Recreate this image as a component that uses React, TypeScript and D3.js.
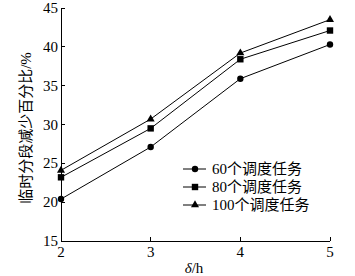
import React from "react";
import * as d3 from "d3";

const xValues = [2, 3, 4, 5];
const series60 = [20.4, 27.1, 35.9, 40.3];
const series80 = [23.2, 29.5, 38.4, 42.1];
const series100 = [24.1, 30.7, 39.2, 43.5];
const seriesNames = ["60个调度任务", "80个调度任务", "100个调度任务"];
const yTicks = [15, 20, 25, 30, 35, 40, 45];
const xTicks = [2, 3, 4, 5];

const W = 355, H = 276;
const x = d3.scaleLinear().domain([2, 5]).range([61, 330]);
const y = d3.scaleLinear().domain([15, 45]).range([241, 8]);
const FONT = "'Liberation Serif', 'Noto Sans CJK SC', serif";

function Marker({ kind, cx, cy }: { kind: number; cx: number; cy: number }) {
  if (kind === 0) return <circle cx={cx} cy={cy} r={3.2} fill="#000" />;
  if (kind === 1) return <rect x={cx - 3.2} y={cy - 3.2} width={6.4} height={6.4} fill="#000" />;
  const p = d3.symbol().type(d3.symbolTriangle).size(28)();
  return <path d={p as string} transform={`translate(${cx},${cy})`} fill="#000" />;
}

export default function App() {
  const all = [series60, series80, series100];
  const line = d3.line<number>().x((_, i) => x(xValues[i])).y((d) => y(d));
  return (
    <svg width={W} height={H} style={{ position: "absolute", left: 0, top: 0, background: "#fff" }}>
      <rect width={W} height={H} fill="#fff" />
      <g stroke="#000" strokeWidth={1} fill="none" shapeRendering="crispEdges">
        <line x1={x(2)} x2={x(2)} y1={y(45)} y2={y(15)} />
        <line x1={x(2)} x2={x(5)} y1={y(15)} y2={y(15)} />
        {yTicks.map((t) => (
          <line key={t} x1={x(2)} x2={x(2) + 4} y1={y(t)} y2={y(t)} />
        ))}
        {xTicks.map((t) => (
          <line key={t} x1={x(t)} x2={x(t)} y1={y(15)} y2={y(15) - 4} />
        ))}
      </g>
      <g fontFamily={FONT} fontSize={15} fill="#000">
        {yTicks.map((t) => (
          <text key={t} x={x(2) - 3} y={y(t) + 5} textAnchor="end">{t}</text>
        ))}
        {xTicks.map((t) => (
          <text key={t} x={x(t)} y={257} textAnchor="middle">{t}</text>
        ))}
        <text x={194} y={273} textAnchor="middle">
          <tspan fontStyle="italic">δ</tspan>/h
        </text>
        <text transform={`translate(31,128) rotate(-90)`} textAnchor="middle">临时分段减少百分比/%</text>
      </g>
      {all.map((s, k) => (
        <g key={k}>
          <path d={line(s) as string} stroke="#000" strokeWidth={1} fill="none" />
          {s.map((v, i) => (
            <Marker key={i} kind={k} cx={x(xValues[i])} cy={y(v)} />
          ))}
        </g>
      ))}
      <g fontFamily={FONT} fontSize={15} fill="#000">
        {seriesNames.map((n, k) => {
          const ly = 169 + k * 18;
          return (
            <g key={n}>
              <line x1={183} x2={206} y1={ly} y2={ly} stroke="#000" strokeWidth={1} />
              <Marker kind={k} cx={195} cy={ly} />
              <text x={212} y={ly + 5}>{n}</text>
            </g>
          );
        })}
      </g>
    </svg>
  );
}
